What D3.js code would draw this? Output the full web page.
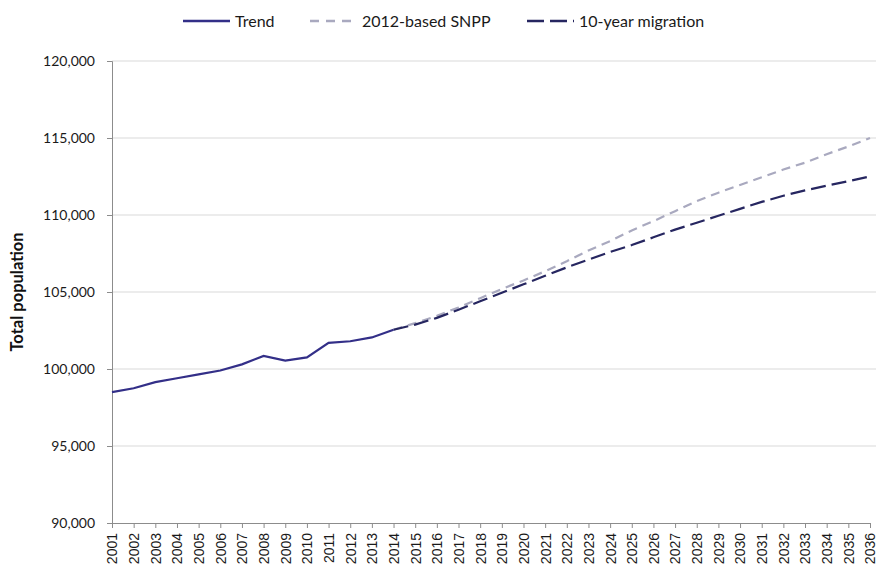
<!DOCTYPE html>
<html><head><meta charset="utf-8">
<script src="https://cdn.jsdelivr.net/npm/d3@7"></script>
<style>body{margin:0;background:#fff}svg{display:block}</style>
</head><body>
<svg id="c" width="879" height="572"></svg>
<script>
const years = d3.range(2001, 2037);
const trendYears = d3.range(2001, 2015);
const trend = [98500, 98750, 99150, 99400, 99650, 99900, 100300, 100850, 100550, 100750, 101700, 101800, 102050, 102550];
const projYears = d3.range(2014, 2037);
const snpp = [102550, 102980, 103450, 104000, 104600, 105200, 105750, 106350, 107000, 107700, 108300, 109000, 109600, 110250, 110900, 111450, 111950, 112450, 112950, 113400, 113950, 114450, 115000];
const tenYear = [102550, 102880, 103320, 103850, 104400, 104950, 105500, 106050, 106600, 107100, 107600, 108050, 108550, 109050, 109500, 109950, 110400, 110850, 111250, 111600, 111900, 112200, 112500];
const yTicks = [90000, 95000, 100000, 105000, 110000, 115000, 120000];
const seriesNames = ["Trend", "2012-based SNPP", "10-year migration"];
const colors = ["#332f88", "#a9a9bf", "#262660"];
const dashes = [null, "9,6", "15,6"];

const svg = d3.select("#c");
const x = d3.scalePoint().domain(years).range([112, 870]);
const y = d3.scaleLinear().domain([90000, 120000]).range([523, 61]);

// gridlines
svg.append("g").selectAll("line").data(yTicks.slice(1)).join("line")
  .attr("x1", 112).attr("x2", 876)
  .attr("y1", d => y(d)).attr("y2", d => y(d))
  .attr("stroke", "#d9d9d9").attr("stroke-width", 1);

// y axis
const yAxis = svg.append("g").attr("transform", "translate(112,0)")
  .call(d3.axisLeft(y).tickValues(yTicks).tickSize(5).tickPadding(12).tickFormat(d3.format(",")));
yAxis.select(".domain").attr("stroke", "#8c8c8c");
yAxis.selectAll(".tick line").attr("stroke", "#8c8c8c");
yAxis.selectAll("text").attr("font-family", "Lato, 'Open Sans', sans-serif").attr("font-size", 14).attr("fill", "#1a1a1a");

// x axis
const xAxis = svg.append("g").attr("transform", "translate(0,523)")
  .call(d3.axisBottom(x).tickSize(5).tickSizeOuter(0).tickFormat(d => String(d)));
xAxis.select(".domain").attr("stroke", "#8c8c8c");
xAxis.selectAll(".tick line").attr("stroke", "#8c8c8c");
xAxis.selectAll("text")
  .attr("font-family", "'Liberation Sans', Arial, sans-serif").attr("font-size", 14).attr("fill", "#1a1a1a")
  .attr("transform", "rotate(-90)").attr("text-anchor", "end")
  .attr("x", -10).attr("y", 0).attr("dy", "0.35em");

// y title
svg.append("text").attr("transform", "translate(23,292) rotate(-90)")
  .attr("text-anchor", "middle").attr("font-family", "Lato, 'Open Sans', sans-serif")
  .attr("font-weight", "bold").attr("font-size", 16.5).attr("fill", "#111")
  .text("Total population");

const line = d3.line().x(d => x(d[0])).y(d => y(d[1]));
const data = [
  d3.zip(trendYears, trend),
  d3.zip(projYears, snpp),
  d3.zip(projYears, tenYear)
];
[1, 2, 0].forEach(i => {
  svg.append("path").datum(data[i]).attr("d", line)
    .attr("fill", "none").attr("stroke", colors[i]).attr("stroke-width", 2.2)
    .attr("stroke-dasharray", dashes[i]);
});

// legend
const legX = [183, 310, 527];
const lg = svg.append("g");
seriesNames.forEach((n, i) => {
  lg.append("line").attr("x1", legX[i]).attr("x2", legX[i] + 47).attr("y1", 21).attr("y2", 21)
    .attr("stroke", colors[i]).attr("stroke-width", 2.5).attr("stroke-dasharray", i === 1 ? "9,7" : (i === 2 ? "17,6" : null));
  lg.append("text").attr("x", legX[i] + 52).attr("y", 21).attr("dy", "0.35em")
    .attr("font-family", "Lato, 'Open Sans', sans-serif").attr("font-size", 16).attr("fill", "#1a1a1a")
    .text(n);
});
</script>
</body></html>
